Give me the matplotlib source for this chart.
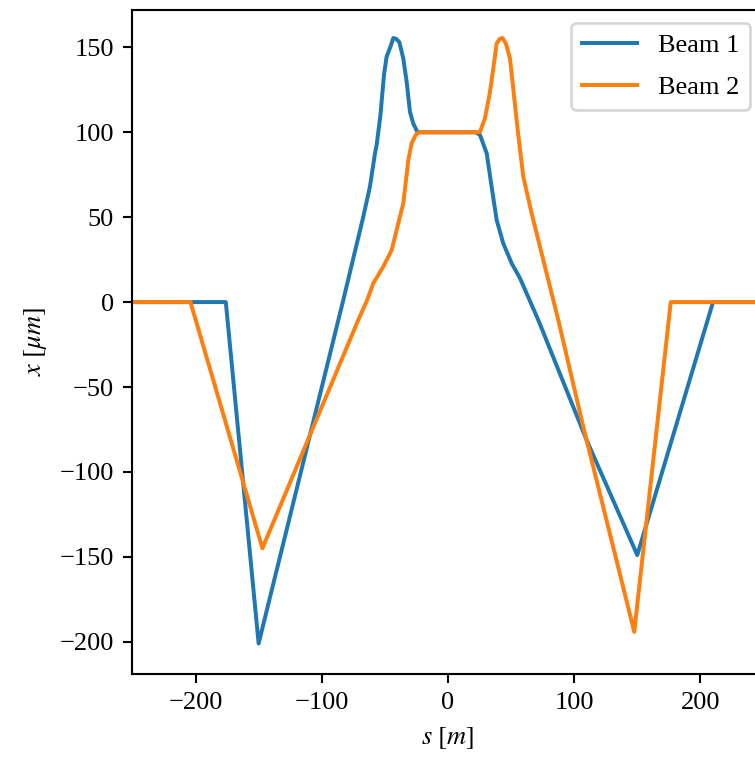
import matplotlib
matplotlib.use("Agg")
import matplotlib.pyplot as plt

plt.rcParams['font.family'] = ['Liberation Serif', 'DejaVu Serif']
plt.rcParams['mathtext.fontset'] = 'stix'
plt.rcParams['font.size'] = 10

# Beam 1 orbit
s_beam1 = [-250, -176, -150, -83, -67.1, -61.8, -57.8, -56.5, -53.5, -50.7, -48.6,
           -45.5, -43.3, -41, -38.5, -35.4, -32.7, -30.1, -27.5, -24.3, -22,
           22, 25.4, 30.7, 34.6, 38.6, 43.8, 50.5, 57.1, 71.6, 109.9, 150, 210, 250]
x_beam1 = [0, 0, -201, 1, 50.2, 68, 87.6, 92.5, 110, 133.7, 144.5,
           150.5, 155.5, 155, 153, 143.5, 129.7, 112, 105.2, 100.3, 100,
           100, 98.4, 87.6, 67.9, 48.3, 34.6, 22.8, 14, -10.6, -81.3, -149, 0, 0]

# Beam 2 orbit
s_beam2 = [-250, -204, -147, -71.1, -64, -59.2, -51.3, -44.6, -39.4, -35.4, -31.4,
           -28.8, -25.5, -23, 23.5, 25.4, 29.3, 33.3, 36, 38.6, 41, 43.3, 46,
           49.1, 51.7, 54.4, 55.7, 59.7, 66.3, 87.4, 107.2, 147.6, 176.5, 250]
x_beam2 = [0, 0, -145, -10.6, 1.2, 11, 20.8, 30.6, 46.3, 58.1, 83.6,
           93.5, 98.5, 100, 100, 100.3, 108.2, 123.9, 138, 152.4, 155, 155.5, 152,
           143.5, 125.9, 107.2, 98.4, 73.8, 52.2, -10.6, -73.4, -194.2, 0, 0]

DPI = 190
fig = plt.figure(figsize=(755 / DPI, 758 / DPI), dpi=DPI)
ax = fig.add_axes([132.4 / 755, 1 - 674 / 758, (763.5 - 132.4) / 755, (674 - 10) / 758])
ax.plot(s_beam1, x_beam1, color='#1f77b4', label='Beam 1')
ax.plot(s_beam2, x_beam2, color='#ff7f0e', label='Beam 2')
ax.set_xlim(-250, 250)
ax.set_ylim(-219, 172)
ax.set_xlabel(r'$s\ [m]$')
ax.set_ylabel(r'$x\ [\mu m]$')
ax.legend(loc='upper right', labelspacing=0.7, handlelength=2.1)
fig.savefig('out.png', dpi=DPI)
